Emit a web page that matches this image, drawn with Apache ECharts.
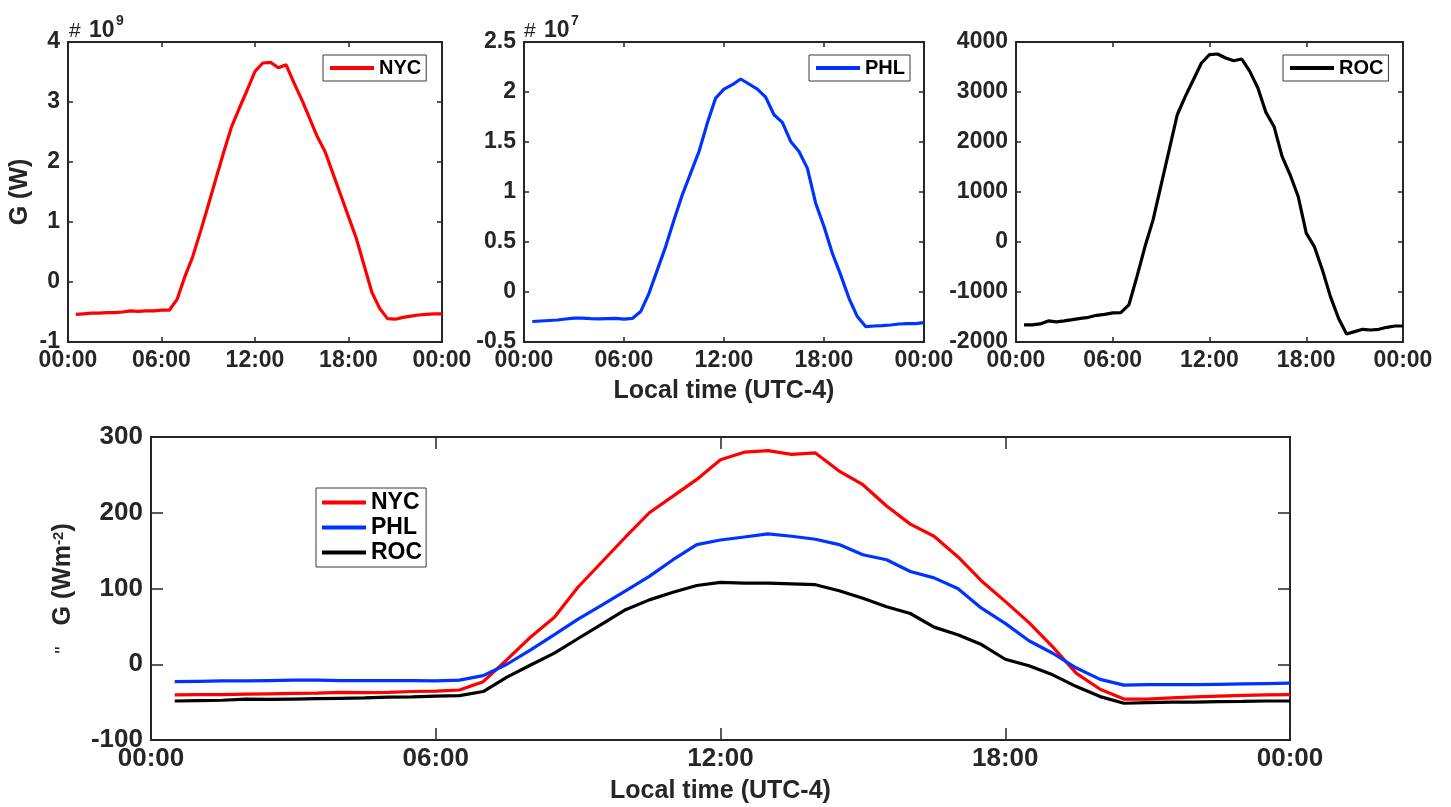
<!DOCTYPE html>
<html><head><meta charset="utf-8">
<script src="https://cdn.jsdelivr.net/npm/echarts@6/dist/echarts.min.js"></script>
<style>html,body{margin:0;padding:0;background:#fff}#c{width:1451px;height:807px}</style>
</head><body><div id="c"></div>
<script>
// Sample times (local, UTC-4), half-hourly
const times = ["00:30","01:00","01:30","02:00","02:30","03:00","03:30","04:00","04:30","05:00","05:30","06:00",
  "06:30","07:00","07:30","08:00","08:30","09:00","09:30","10:00","10:30","11:00","11:30","12:00",
  "12:30","13:00","13:30","14:00","14:30","15:00","15:30","16:00","16:30","17:00","17:30","18:00",
  "18:30","19:00","19:30","20:00","20:30","21:00","21:30","22:00","22:30","23:00","23:30","24:00"];
const xTickLabels = ["00:00","06:00","12:00","18:00","00:00"];
const cities = ["NYC","PHL","ROC"];

// G (W): NYC in units of 1e9, PHL in units of 1e7, ROC in W
const nycW = [-0.54,-0.53,-0.52,-0.52,-0.51,-0.51,-0.50,-0.48,-0.49,-0.48,-0.48,-0.47,
  -0.47,-0.29,0.09,0.42,0.84,1.28,1.73,2.17,2.59,2.90,3.20,3.51,
  3.65,3.66,3.57,3.62,3.32,3.04,2.73,2.42,2.17,1.81,1.45,1.09,
  0.73,0.28,-0.17,-0.44,-0.61,-0.62,-0.59,-0.57,-0.55,-0.54,-0.53,-0.53];
const phlW = [-0.295,-0.29,-0.285,-0.28,-0.27,-0.262,-0.262,-0.267,-0.268,-0.266,-0.264,-0.272,
  -0.264,-0.196,-0.013,0.221,0.454,0.721,0.972,1.189,1.405,1.689,1.939,2.029,
  2.073,2.13,2.08,2.029,1.949,1.773,1.696,1.506,1.405,1.239,0.888,0.655,
  0.388,0.171,-0.063,-0.246,-0.346,-0.34,-0.336,-0.33,-0.32,-0.316,-0.316,-0.306];
const rocW = [-1659,-1659,-1639,-1579,-1599,-1579,-1553,-1526,-1506,-1466,-1446,-1419,
  -1413,-1259,-692,-91,443,1144,1844,2545,2912,3246,3580,3746,
  3760,3680,3626,3660,3413,3079,2592,2311,1711,1344,910,176,
  -91,-558,-1092,-1526,-1840,-1793,-1746,-1760,-1746,-1706,-1680,-1680];

// G (W m^-2)
const nycG = [-40.5,-40,-40,-39.5,-39,-38.5,-38,-37,-37.5,-37,-36,-35.5,
  -34,-23,6,36,62,102,135,168,200,222,244,270,
  280,282,277,279,255,237,209,185,169,142,110,83,
  55,23,-12,-33,-46,-46,-44.5,-43,-42,-41,-40.5,-40];
const phlG = [-23,-22.5,-22,-22,-21.5,-21,-21,-21.5,-21.5,-21.5,-21.5,-22,
  -21,-15,0,19,39,59.5,78,97,116,138,158,164,
  168,172,169,165,158,144.5,138,122.5,114,100,74,54,
  31,14.5,-5,-20,-27.5,-27,-27,-27,-26.5,-26,-25.5,-25];
const rocG = [-48.5,-48,-47.5,-46,-46.5,-46,-45.5,-45,-44.5,-43.5,-43,-42,
  -41.5,-36,-17,-1,14.6,34,53,72,85,95,104,108,
  107,107,106,105,97,87,76,67,49,39,26,6.6,
  -2,-14,-29.5,-42.7,-51.5,-50.6,-50,-50,-49.3,-49,-48.5,-48.5];

const colors = {NYC:'#ff0000', PHL:'#0033ff', ROC:'#000000'};
const FONT = "'Liberation Sans', Arial, Helvetica, sans-serif";
const INK = '#262626';

function hours(t){ const p = t.split(':'); return +p[0] + (+p[1])/60; }
function pairs(arr){ return times.map((t,i)=>[hours(t), arr[i]]); }

const xAxes = [], yAxes = [];
function addAxes(gi, ymin, ymax, yint, fs, tickLen, xMargin, xName, yName, xNameGap, yNameGap, nameFs){
  const line = {show:true, onZero:false, lineStyle:{color:INK, width:2}};
  const tick = {show:true, inside:true, length:tickLen, lineStyle:{color:INK, width:1.5}};
  const lab = {color:INK, fontSize:fs, fontWeight:'bold', fontFamily:FONT};
  xAxes.push({type:'value', gridIndex:gi, position:'bottom', min:0, max:24, interval:6,
    axisLine:line, axisTick:tick, splitLine:{show:false},
    axisLabel:Object.assign({margin:xMargin, formatter:v=>xTickLabels[Math.round(v/6)]}, lab),
    name:xName, nameLocation:'middle', nameGap:xNameGap, nameMoveOverlap:false,
    nameTextStyle:{color:INK, fontSize:nameFs, fontWeight:'bold', fontFamily:FONT}});
  xAxes.push({type:'value', gridIndex:gi, position:'top', min:0, max:24, interval:6,
    axisLine:line, axisTick:tick, splitLine:{show:false}, axisLabel:{show:false}});
  yAxes.push({type:'value', gridIndex:gi, position:'left', min:ymin, max:ymax, interval:yint,
    axisLine:line, axisTick:tick, splitLine:{show:false},
    axisLabel:Object.assign({margin:8, formatter:v=>String(v)}, lab),
    name:yName, nameLocation:'middle', nameGap:yNameGap, nameMoveOverlap:false,
    nameTextStyle:{color:INK, fontSize:nameFs, fontWeight:'bold', fontFamily:FONT,
      rich:{sup:{fontSize:15, fontWeight:'bold', color:INK, fontFamily:FONT, verticalAlign:'top', padding:[0,0,10,0]},
            dq:{fontSize:21, fontWeight:'normal', color:INK, fontFamily:FONT}}}});
  yAxes.push({type:'value', gridIndex:gi, position:'right', min:ymin, max:ymax, interval:yint,
    axisLine:line, axisTick:tick, splitLine:{show:false}, axisLabel:{show:false}});
}
addAxes(0, -1, 4, 1, 23, 5, 7, '', 'G (W)', 0, 35, 25);
addAxes(1, -0.5, 2.5, 0.5, 23, 5, 7, 'Local time (UTC-4)', '', 37, 0, 25);
addAxes(2, -2000, 4000, 1000, 23, 5, 7, '', '', 0, 0, 25);
addAxes(3, -100, 300, 100, 26, 12, 6, 'Local time (UTC-4)', '{dq|"}   G (Wm{sup|-2})', 39, 75, 25);

function ser(name, arr, gi){
  return {type:'line', name:name, xAxisIndex:gi*2, yAxisIndex:gi*2, data:pairs(arr),
    showSymbol:false, symbol:'none', lineStyle:{color:colors[name], width:3.2}, itemStyle:{color:colors[name]},
    animation:false, z:3};
}

const legendBase = (data, left, top, fs, pad, lh, gap) => ({
  data:data, left:left, top:top, orient:'vertical', icon:'rect', itemWidth:44, itemHeight:4,
  itemGap:gap, padding:pad, borderColor:'#3a3a3a', borderWidth:1, backgroundColor:'#fff',
  itemStyle:{borderWidth:0}, selectedMode:false,
  textStyle:{color:'#000', fontSize:fs, fontWeight:'bold', fontFamily:FONT, lineHeight:lh, padding:[0,0,0,0]}
});

const option = {
  animation:false,
  backgroundColor:'#fff',
  grid:[
    {left:68, top:42, width:374, height:300, outerBoundsMode:'none'},
    {left:524, top:42, width:400, height:300, outerBoundsMode:'none'},
    {left:1016, top:42, width:387, height:300, outerBoundsMode:'none'},
    {left:151, top:437, width:1139, height:303, outerBoundsMode:'none'}
  ],
  xAxis:xAxes, yAxis:yAxes,
  legend:[
    legendBase(['NYC'], 323, 55, 20, [3,5,3,7], 20, 0),
    legendBase(['PHL'], 809, 55, 20, [3,5,3,7], 20, 0),
    legendBase(['ROC'], 1283, 55, 20, [3,5,3,7], 20, 0),
    legendBase(cities, 316, 488, 23, [3,4,3,6], 22, 2)
  ],
  graphic:[
    {type:'text', x:69, y:42, style:{text:'#', fontSize:21, fontWeight:'normal', fontFamily:FONT, fill:INK, verticalAlign:'bottom'}},
    {type:'text', x:89, y:42, style:{text:'10', fontSize:23, fontWeight:'bold', fontFamily:FONT, fill:INK, verticalAlign:'bottom'}},
    {type:'text', x:116, y:28, style:{text:'9', fontSize:14, fontWeight:'bold', fontFamily:FONT, fill:INK, verticalAlign:'bottom'}},
    {type:'text', x:524, y:42, style:{text:'#', fontSize:21, fontWeight:'normal', fontFamily:FONT, fill:INK, verticalAlign:'bottom'}},
    {type:'text', x:544, y:42, style:{text:'10', fontSize:23, fontWeight:'bold', fontFamily:FONT, fill:INK, verticalAlign:'bottom'}},
    {type:'text', x:571, y:28, style:{text:'7', fontSize:14, fontWeight:'bold', fontFamily:FONT, fill:INK, verticalAlign:'bottom'}}
  ],
  series:[
    ser('NYC', nycW, 0), ser('PHL', phlW, 1), ser('ROC', rocW, 2),
    ser('NYC', nycG, 3), ser('PHL', phlG, 3), ser('ROC', rocG, 3)
  ]
};
const chart = echarts.init(document.getElementById('c'), null, {renderer:'canvas'});
chart.setOption(option);
</script>
</body></html>
